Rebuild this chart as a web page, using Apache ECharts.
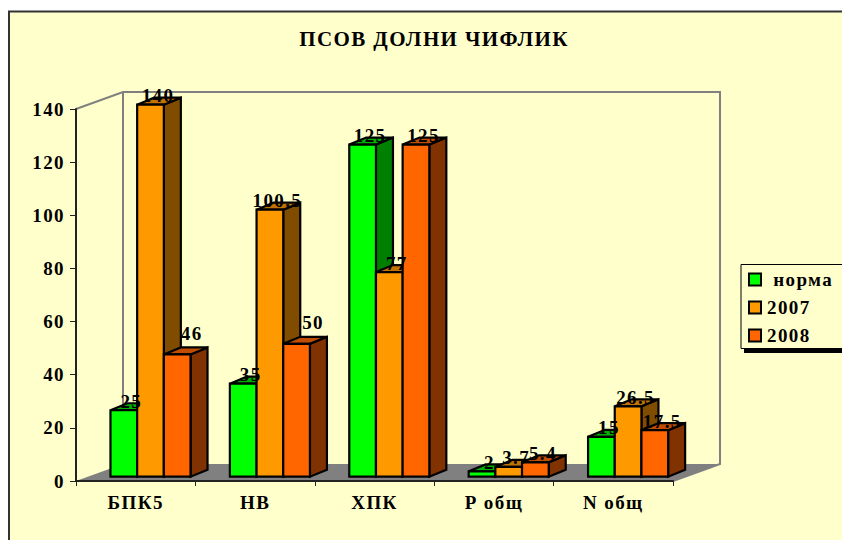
<!DOCTYPE html>
<html>
<head>
<meta charset="utf-8">
<style>
  html, body { margin: 0; padding: 0; background: #fff; }
  #chart { width: 842px; height: 540px; overflow: hidden; }
  #chart text { letter-spacing: 1.4px; }
</style>
<script src="https://cdn.jsdelivr.net/npm/echarts@6/dist/echarts.min.js"></script>
</head>
<body>
<div id="chart"></div>
<script>
const categories = ['БПК5', 'НВ', 'ХПК', 'Р общ', 'N общ']
const seriesNames = ['норма', '2007', '2008']
const norma = [25, 35, 125, 2, 15]
const y2007 = [140, 100.5, 77, 3.7, 26.5]
const y2008 = [46, 50, 125, 5.4, 17.5]
const allValues = [norma, y2007, y2008]
const yTicks = { min: 0, max: 140, interval: 20 }

// front, side and top face of each series
const faces = [
  { front: '#00ff00', side: '#008000', top: '#00b000' },
  { front: '#ff9900', side: '#804d00', top: '#c07300' },
  { front: '#ff6600', side: '#803300', top: '#c04d00' },
]
const serif = '"Liberation Serif", serif'

// fake 3d: how far the back wall and a bar's depth go, in px
const wall = { dx: 47, dy: -17 }
const depth = { dx: 17, dy: -7 }
const barShift = { dx: 14.8, dy: -4.3 }
const slotShare = 0.2235

// hand placed labels in the original: series index, category index
const labelNudge = { '2,0': [7, -12], '2,1': [9, -12] }

const pts = (arr) => ({ points: arr })

const renderBar = (s) => (params, api) => {
  const i = api.value(0)
  const base = api.coord([i, 0])
  const tip = api.coord([i, api.value(1)])
  const w = api.size([1, 0])[0] * slotShare
  const x = base[0] + barShift.dx + (s - 1.5) * w
  const y0 = base[1] + barShift.dy
  const y1 = tip[1] + barShift.dy
  const d = depth
  const line = { stroke: '#000', lineWidth: 2.2, lineJoin: 'miter' }
  return {
    type: 'group',
    children: [
      {
        type: 'polygon',
        shape: pts([[x + w, y1], [x + w + d.dx, y1 + d.dy], [x + w + d.dx, y0 + d.dy], [x + w, y0]]),
        style: { fill: faces[s].side, ...line },
      },
      {
        type: 'polygon',
        shape: pts([[x, y1], [x + d.dx, y1 + d.dy], [x + w + d.dx, y1 + d.dy], [x + w, y1]]),
        style: { fill: faces[s].top, ...line },
      },
      {
        type: 'rect',
        shape: { x, y: y1, width: w, height: y0 - y1 },
        style: { fill: faces[s].front, ...line },
      },
    ],
  }
}

const renderLabel = (params, api) => {
  const i = api.value(0)
  const v = api.value(1)
  const s = api.value(2)
  const tip = api.coord([i, v])
  const w = api.size([1, 0])[0] * slotShare
  const nudge = labelNudge[s + ',' + i] || [0, 0]
  return {
    type: 'text',
    style: {
      text: String(v),
      x: tip[0] + barShift.dx + (s - 1) * w + 7.5 + nudge[0],
      y: tip[1] + barShift.dy - 9 + nudge[1],
      align: 'center',
      verticalAlign: 'middle',
      fill: '#000',
      font: 'bold 19px ' + serif,
    },
  }
}

const renderWalls = (params) => {
  const g = params.coordSys
  const left = g.x
  const right = g.x + g.width
  const top = g.y
  const bottom = g.y + g.height
  const grey = { stroke: '#808080', lineWidth: 2, fill: null }
  return {
    type: 'group',
    children: [
      {
        type: 'polygon',
        shape: pts([[left, bottom], [left + wall.dx, bottom + wall.dy], [right + wall.dx, bottom + wall.dy], [right, bottom]]),
        style: { fill: '#808080' },
      },
      {
        type: 'polyline',
        shape: pts([[left, top], [left + wall.dx, top + wall.dy], [right + wall.dx, top + wall.dy], [right + wall.dx, bottom + wall.dy], [right, bottom]]),
        style: grey,
      },
      {
        type: 'polyline',
        shape: pts([[left + wall.dx, top + wall.dy], [left + wall.dx, bottom + wall.dy]]),
        style: grey,
      },
    ],
  }
}

const labelData = []
allValues.forEach((vals, s) => vals.forEach((v, i) => labelData.push([i, v, s])))

const chart = echarts.init(document.getElementById('chart'), null, { renderer: 'svg' })

chart.setOption({
  animation: false,
  backgroundColor: '#fff',
  title: {
    text: 'ПСОВ ДОЛНИ ЧИФЛИК',
    left: 429,
    top: 23,
    textAlign: 'center',
    textStyle: { fontFamily: serif, fontWeight: 'bold', fontSize: 21, color: '#000' },
  },
  grid: { left: 76, right: 169, top: 109, bottom: 59 },
  legend: {
    data: seriesNames,
    orient: 'vertical',
    icon: 'rect',
    left: 743,
    top: 265,
    padding: 5,
    itemWidth: 12,
    itemHeight: 12,
    itemGap: 9,
    formatter: (n) => (n === 'норма' ? ' ' + n : n),
    textStyle: { fontFamily: serif, fontWeight: 'bold', fontSize: 19, color: '#000', padding: [0, 0, 0, 1] },
  },
  graphic: [
    { type: 'rect', z: -10, shape: { x: 9, y: 12, width: 833, height: 528 }, style: { fill: '#ffffcc' } },
    { type: 'polyline', z: -9, shape: pts([[9, 540], [9, 11.5], [842, 11.5]]), style: { stroke: '#333', lineWidth: 2, fill: null } },
    { type: 'rect', z: -8, shape: { x: 744, y: 348, width: 98, height: 5 }, style: { fill: '#000' } },
    { type: 'rect', z: -7, shape: { x: 741, y: 264.5, width: 101, height: 84 }, style: { fill: '#ffffcc' } },
    { type: 'polyline', z: -6, shape: pts([[842, 264.5], [741, 264.5], [741, 348.5], [842, 348.5]]), style: { stroke: '#000', lineWidth: 1, fill: null } },
  ],
  xAxis: {
    type: 'category',
    data: categories,
    z: 2,
    axisLine: { lineStyle: { color: '#222', width: 2 } },
    axisTick: { show: true, alignWithLabel: false, length: 5, lineStyle: { color: '#222', width: 1 } },
    axisLabel: { margin: 12, fontFamily: serif, fontWeight: 'bold', fontSize: 19, color: '#000', interval: 0 },
  },
  yAxis: {
    type: 'value',
    min: yTicks.min,
    max: yTicks.max,
    interval: yTicks.interval,
    z: 2,
    splitLine: { show: false },
    axisLine: { show: true, lineStyle: { color: '#222', width: 2 } },
    axisTick: { show: true, length: 6, lineStyle: { color: '#222', width: 1 } },
    axisLabel: { margin: 11, fontFamily: serif, fontWeight: 'bold', fontSize: 19, color: '#000' },
  },
  series: [
    { type: 'custom', name: 'walls', silent: true, z: 1, renderItem: renderWalls, data: [[0, 0]], clip: false },
    ...seriesNames.map((name, s) => ({
      type: 'custom',
      name,
      z: 3,
      clip: false,
      renderItem: renderBar(s),
      itemStyle: { color: faces[s].front, borderColor: '#000', borderWidth: 1.5 },
      data: allValues[s].map((v, i) => [i, v]),
    })),
    { type: 'custom', name: 'labels', silent: true, z: 5, clip: false, renderItem: renderLabel, data: labelData },
  ],
})
window.addEventListener('resize', () => chart.resize())
</script>
</body>
</html>
